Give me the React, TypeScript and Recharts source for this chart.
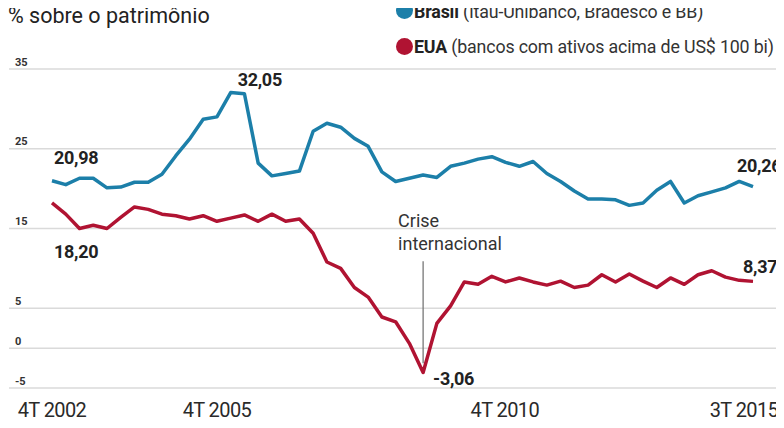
import React from "react";
import { LineChart, Line, XAxis, YAxis, CartesianGrid, LabelList, ReferenceLine } from "recharts";

const quarters = [
  "4T 2002",
  "1T 2003", "2T 2003", "3T 2003", "4T 2003",
  "1T 2004", "2T 2004", "3T 2004", "4T 2004",
  "1T 2005", "2T 2005", "3T 2005", "4T 2005",
  "1T 2006", "2T 2006", "3T 2006", "4T 2006",
  "1T 2007", "2T 2007", "3T 2007", "4T 2007",
  "1T 2008", "2T 2008", "3T 2008", "4T 2008",
  "1T 2009", "2T 2009", "3T 2009", "4T 2009",
  "1T 2010", "2T 2010", "3T 2010", "4T 2010",
  "1T 2011", "2T 2011", "3T 2011", "4T 2011",
  "1T 2012", "2T 2012", "3T 2012", "4T 2012",
  "1T 2013", "2T 2013", "3T 2013", "4T 2013",
  "1T 2014", "2T 2014", "3T 2014", "4T 2014",
  "1T 2015", "2T 2015", "3T 2015",
];

const brasil = [
  20.98, 20.5, 21.3, 21.3, 20.1, 20.2, 20.8, 20.8, 21.8, 24.1,
  26.2, 28.7, 29.0, 32.05, 31.9, 23.2, 21.6, 21.9, 22.2, 27.2,
  28.2, 27.7, 26.3, 25.3, 22.1, 20.9, 21.3, 21.7, 21.4, 22.8,
  23.2, 23.7, 24.0, 23.3, 22.8, 23.4, 21.9, 20.9, 19.7, 18.7,
  18.7, 18.6, 17.9, 18.2, 19.8, 20.9, 18.2, 19.1, 19.6, 20.1,
  20.9, 20.26,
];

const eua = [
  18.2, 16.8, 15.0, 15.4, 15.0, 16.4, 17.7, 17.4, 16.8, 16.6,
  16.2, 16.6, 15.9, 16.3, 16.7, 15.9, 16.8, 15.9, 16.2, 14.4,
  10.8, 10.0, 7.6, 6.4, 3.9, 3.3, 0.6, -3.06, 3.1, 5.3,
  8.3, 8.0, 9.0, 8.3, 8.8, 8.3, 7.9, 8.4, 7.6, 7.9,
  9.2, 8.3, 9.3, 8.4, 7.6, 8.8, 8.0, 9.2, 9.7, 8.9,
  8.5, 8.37,
];

const xTicks = ["4T 2002", "4T 2005", "4T 2010", "3T 2015"];
const yTicks = [-5, 0, 5, 15, 25, 35];
const title = "% sobre o patrimônio";
const crisisQuarter = "3T 2009";
const crisisText = ["Crise", "internacional"];
const legendItems = [
  { name: "Brasil", desc: " (Itaú-Unibanco, Bradesco e BB)" },
  { name: "EUA", desc: " (bancos com ativos acima de US$ 100 bi)" },
];

const data = quarters.map((q, i) => ({ q, brasil: brasil[i], eua: eua[i] }));

const BLUE = "#1c7fa9";
const RED = "#b01332";
const FONT = "Roboto, 'Noto Sans', sans-serif";

const fmt = (v: number) => v.toFixed(2).replace(".", ",");

const brasilLabelOffsets: Record<number, [number, number]> = {
  0: [2, -23],
  13: [7, -13],
  51: [-16, -21],
};
const euaLabelOffsets: Record<number, [number, number]> = {
  0: [2, 49],
  27: [10, 6],
  51: [-10, -15],
};

const makeLabel = (offsets: Record<number, [number, number]>) => (props: any) => {
  const { x, y, value, index } = props;
  const o = offsets[index];
  if (!o) return null;
  return (
    <text
      x={x + o[0]}
      y={y + o[1]}
      dominantBaseline="central"
      fontFamily={FONT}
      fontSize={18}
      fontWeight={700}
      fill="#222"
      letterSpacing={-0.3}
    >
      {fmt(Number(value))}
    </text>
  );
};

const xTickDx: Record<string, number> = { "4T 2010": 13, "3T 2015": -9 };

const XTick = (props: any) => {
  const { x, y, payload } = props;
  return (
    <text
      x={x + (xTickDx[payload.value] || 0)}
      y={y + 22}
      dominantBaseline="central"
      textAnchor="middle"
      fontFamily={FONT}
      fontSize={20}
      fill="#2a2a2a"
      letterSpacing={-0.6}
    >
      {payload.value}
    </text>
  );
};

const YTick = (props: any) => {
  const { y, payload } = props;
  return (
    <text
      x={7}
      y={y - 7}
      dominantBaseline="central"
      textAnchor="start"
      fontFamily={FONT}
      fontSize={11}
      fontWeight={700}
      fill="#333"
    >
      {payload.value}
    </text>
  );
};

const CrisisLabel = (props: any) => {
  const vb = props.viewBox || {};
  const x = vb.x ?? 0;
  const y = vb.y ?? 0;
  return (
    <text fontFamily={FONT} fontSize={18} fill="#333">
      <tspan x={x - 25} y={y - 41} dominantBaseline="central">
        {crisisText[0]}
      </tspan>
      <tspan x={x - 25} y={y - 18} dominantBaseline="central">
        {crisisText[1]}
      </tspan>
    </text>
  );
};

export default function App() {
  return (
    <div
      style={{
        position: "relative",
        width: 784,
        height: 428,
        margin: -8,
        fontFamily: FONT,
        background: "#fff",
        overflow: "hidden",
      }}
    >
      <div
        style={{
          position: "absolute",
          left: 8,
          top: 5,
          fontSize: 21.5,
          lineHeight: "21px",
          color: "#222",
          whiteSpace: "nowrap",
        }}
      >
        {title}
      </div>
      {legendItems.map((it, i) => (
        <React.Fragment key={it.name}>
          <div
            style={{
              position: "absolute",
              left: 396,
              top: i === 0 ? 2 : 38,
              width: 17,
              height: 17,
              borderRadius: 9,
              background: i === 0 ? BLUE : RED,
            }}
          />
          <div
            style={{
              position: "absolute",
              left: 414,
              top: i === 0 ? 3 : 38,
              fontSize: 17.8,
              lineHeight: "18px",
              letterSpacing: -0.15,
              color: "#333",
              whiteSpace: "nowrap",
            }}
          >
            <b style={{ color: "#222" }}>{it.name}</b>
            {it.desc}
          </div>
        </React.Fragment>
      ))}
      <div style={{ position: "absolute", left: 8, top: 8 }}>
        <LineChart width={776} height={420} data={data} margin={{ top: 61, right: 0, left: 0, bottom: 0 }}>
          <CartesianGrid vertical={false} stroke="#dadada" strokeWidth={1.5} />
          <XAxis
            dataKey="q"
            ticks={xTicks}
            interval={0}
            axisLine={false}
            tickLine={false}
            tickSize={0}
            tickMargin={0}
            height={40}
            padding={{ left: 43, right: 31 }}
            tick={<XTick />}
          />
          <YAxis
            domain={[-5, 35]}
            ticks={yTicks}
            interval={0}
            width={1}
            axisLine={false}
            tickLine={false}
            tickSize={0}
            tickMargin={0}
            tick={<YTick />}
          />
          <ReferenceLine
            segment={[
              { x: crisisQuarter, y: 10.9 },
              { x: crisisQuarter, y: -1.9 },
            ]}
            stroke="#777"
            strokeWidth={1.3}
            label={<CrisisLabel />}
          />
          <Line
            type="linear"
            dataKey="brasil"
            stroke={BLUE}
            strokeWidth={3.5}
            dot={false}
            isAnimationActive={false}
            strokeLinejoin="round"
          >
            <LabelList dataKey="brasil" content={makeLabel(brasilLabelOffsets)} />
          </Line>
          <Line
            type="linear"
            dataKey="eua"
            stroke={RED}
            strokeWidth={3.5}
            dot={false}
            isAnimationActive={false}
            strokeLinejoin="round"
          >
            <LabelList dataKey="eua" content={makeLabel(euaLabelOffsets)} />
          </Line>
        </LineChart>
      </div>
    </div>
  );
}
